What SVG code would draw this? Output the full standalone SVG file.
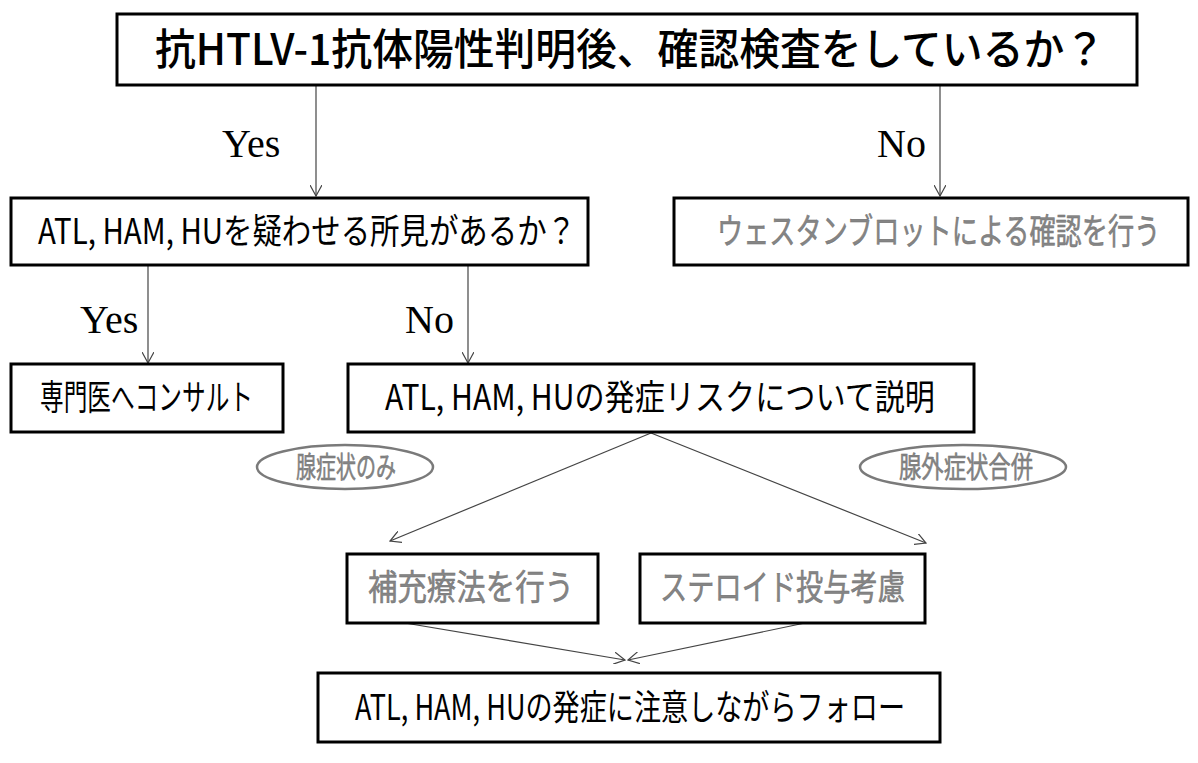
<svg xmlns="http://www.w3.org/2000/svg" width="1198" height="763" viewBox="0 0 1198 763">
<style>
.box{fill:#fff;stroke:#000;stroke-width:3}
.t{font-family:"Noto Sans CJK JP","Liberation Sans",sans-serif;font-size:35px;fill:#000;font-weight:400}
.g{fill:#858585;stroke:#707070;stroke-width:0.5}
.yn{font-family:"Liberation Serif",serif;font-size:40px;fill:#000}
.c{fill:none;stroke:#444;stroke-width:1.2}
.ell{fill:#fff;stroke:#7a7a7a;stroke-width:2.5}
</style>
<defs>
<marker id="ah" viewBox="0 0 12 12" refX="11" refY="6" markerWidth="12" markerHeight="12" markerUnits="userSpaceOnUse" orient="auto">
<path d="M0,0 L11,6 L0,12" fill="none" stroke="#444" stroke-width="1.2"/>
</marker>
</defs>
<rect width="1198" height="763" fill="#fff"/>
<g id="connectors">
<line class="c" x1="316" y1="85" x2="316" y2="196" marker-end="url(#ah)"/>
<line class="c" x1="940" y1="85" x2="940" y2="196" marker-end="url(#ah)"/>
<line class="c" x1="148" y1="265" x2="148" y2="363" marker-end="url(#ah)"/>
<line class="c" x1="468" y1="265" x2="468" y2="363" marker-end="url(#ah)"/>
<line class="c" x1="651" y1="433" x2="390" y2="541" marker-end="url(#ah)"/>
<line class="c" x1="651" y1="433" x2="926" y2="543" marker-end="url(#ah)"/>
<line class="c" x1="405" y1="623" x2="625" y2="660" marker-end="url(#ah)"/>
<line class="c" x1="805" y1="623" x2="628" y2="660" marker-end="url(#ah)"/>
<text class="yn" x="222" y="157">Yes</text>
<text class="yn" x="877" y="157">No</text>
<text class="yn" x="80" y="333">Yes</text>
<text class="yn" x="405" y="333">No</text>
</g>
<g id="n1">
<rect class="box" x="117" y="14" width="1020" height="71"/>
<text class="t" x="155" y="65" textLength="950" lengthAdjust="spacingAndGlyphs" style="font-size:43px;font-weight:500">抗HTLV-1抗体陽性判明後、確認検査をしているか？</text>
</g>
<g id="n2">
<rect class="box" x="11" y="198" width="577" height="67"/>
<text class="t" x="38" y="244" textLength="538" lengthAdjust="spacingAndGlyphs">ATL, HAM, HUを疑わせる所見があるか？</text>
</g>
<g id="n3">
<rect class="box" x="674" y="198" width="514" height="67"/>
<text class="t g" transform="translate(717,244) scale(0.748,1)" x="0" y="0">ウェスタンブロットによる確認を行う</text>
</g>
<g id="n4">
<rect class="box" x="11" y="364" width="272" height="68"/>
<text class="t" x="40" y="410" textLength="213" lengthAdjust="spacingAndGlyphs">専門医へコンサルト</text>
</g>
<g id="n5">
<rect class="box" x="348" y="364" width="626" height="68"/>
<text class="t" x="385" y="410" textLength="550" lengthAdjust="spacingAndGlyphs">ATL, HAM, HUの発症リスクについて説明</text>
</g>
<g id="e1">
<ellipse class="ell" cx="345" cy="467" rx="88" ry="22"/>
<text class="t g" x="296" y="478" textLength="100" lengthAdjust="spacingAndGlyphs" style="font-size:29px">腺症状のみ</text>
</g>
<g id="e2">
<ellipse class="ell" cx="963" cy="467" rx="103" ry="22"/>
<text class="t g" x="899" y="478" textLength="134" lengthAdjust="spacingAndGlyphs" style="font-size:29px">腺外症状合併</text>
</g>
<g id="n6">
<rect class="box" x="347" y="554" width="251" height="69"/>
<text class="t g" x="368" y="600" textLength="206" lengthAdjust="spacingAndGlyphs">補充療法を行う</text>
</g>
<g id="n7">
<rect class="box" x="640" y="554" width="285" height="69"/>
<text class="t g" x="660" y="600" textLength="245" lengthAdjust="spacingAndGlyphs">ステロイド投与考慮</text>
</g>
<g id="n8">
<rect class="box" x="318" y="673" width="622" height="69"/>
<text class="t" x="355" y="720" textLength="550" lengthAdjust="spacingAndGlyphs">ATL, HAM, HUの発症に注意しながらフォロー</text>
</g>
</svg>
